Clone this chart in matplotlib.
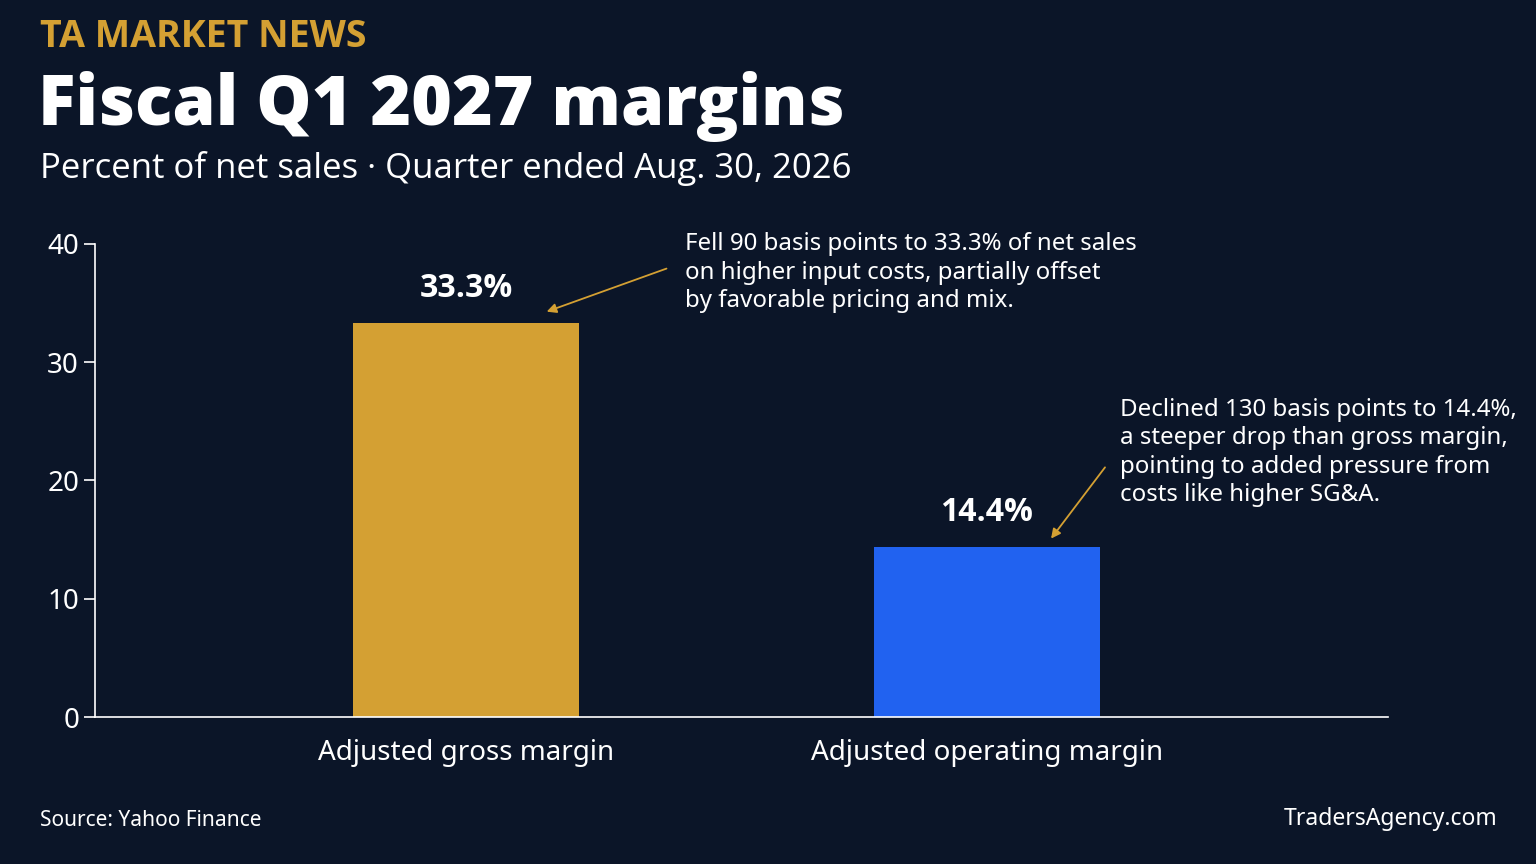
import matplotlib
matplotlib.use("Agg")
import matplotlib.pyplot as plt

categories = ["Adjusted gross margin", "Adjusted operating margin"]
values = [33.3, 14.4]
labels = ["33.3%", "14.4%"]
colors = ["#d4a033", "#2162f0"]
yticks = [0, 10, 20, 30, 40]
notes = ["Fell 90 basis points to 33.3% of net sales\non higher input costs, partially offset\nby favorable pricing and mix.",
         "Declined 130 basis points to 14.4%,\na steeper drop than gross margin,\npointing to added pressure from\ncosts like higher SG&A."]

BG = "#0b1528"
BOLD = ['Open Sans', 'DejaVu Sans']
plt.rcParams['font.family'] = ['Noto Sans', 'DejaVu Sans']
fig = plt.figure(figsize=(15.36, 8.64), dpi=100, facecolor=BG)
ax = fig.add_axes([95/1536, 1-717/864, 1293/1536, 473/864], facecolor=BG)
x = [0, 1]
ax.bar(x, values, width=0.434, color=colors)
ax.set_xlim(-0.712, 1.77)
ax.set_ylim(0, 40)
ax.set_yticks(yticks)
ax.set_xticks(x)
ax.set_xticklabels(categories, fontsize=20, color="white")
ax.tick_params(axis='y', colors="white", labelsize=20, length=8, width=1.2)
ax.tick_params(axis='x', length=0, pad=16)
for s in ["top", "right"]:
    ax.spines[s].set_visible(False)
for s in ["left", "bottom"]:
    ax.spines[s].set_color("white")
    ax.spines[s].set_linewidth(1.2)
for xi, v, l in zip(x, values, labels):
    ax.text(xi, v + 1.5, l, ha="center", va="bottom", fontsize=23, fontweight="bold",
            color="white", family=BOLD)

ax.annotate("", xy=(0.15, 34.2), xytext=(0.39, 38.0),
            arrowprops=dict(arrowstyle="-|>", color="#d4a033", lw=1.3, mutation_scale=14))
ax.text(0.42, 41.0, notes[0], fontsize=17.3, color="white", va="top", linespacing=1.25)
ax.annotate("", xy=(1.12, 14.9), xytext=(1.23, 21.3),
            arrowprops=dict(arrowstyle="-|>", color="#d4a033", lw=1.3, mutation_scale=14))
ax.text(1.255, 27.0, notes[1], fontsize=17.3, color="white", va="top", linespacing=1.25)

fig.text(40/1536, 1-37/864, "TA MARKET NEWS", fontsize=27, fontweight="bold", color="#d4a033",
         va="center", family=BOLD)
fig.text(38/1536, 1-106/864, "Fiscal Q1 2027 margins", fontsize=50, fontweight="heavy",
         color="white", va="center", family=BOLD)
fig.text(40/1536, 1-168/864, "Percent of net sales · Quarter ended Aug. 30, 2026", fontsize=25,
         color="white", va="center", family=['Open Sans', 'DejaVu Sans'])
fig.text(40/1536, 1-821/864, "Source: Yahoo Finance", fontsize=15, color="white", va="center")
fig.text(1497/1536, 1-819/864, "TradersAgency.com", fontsize=16.5, color="white", va="center", ha="right")
fig.savefig("out.png", dpi=100, facecolor=BG)
